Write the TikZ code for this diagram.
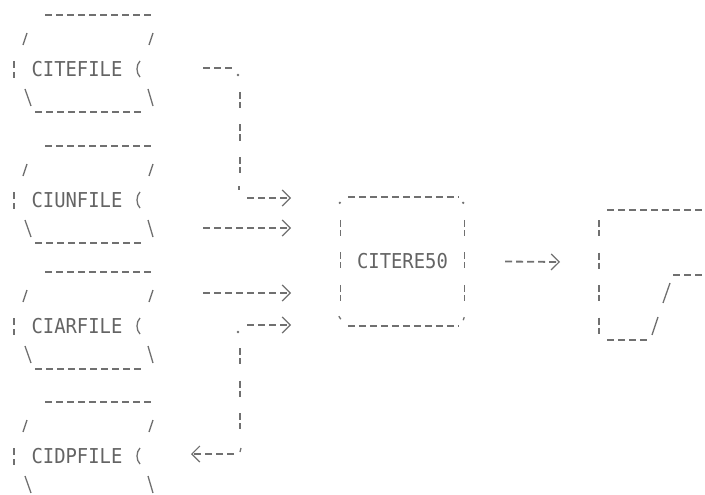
\documentclass[tikz,border=0pt]{standalone}
\usepackage{fontspec}
\newfontfamily\dotfont[FakeStretch=0.92]{DejaVu Sans Mono}
\usetikzlibrary{arrows.meta,calc}
\definecolor{ink}{RGB}{100,100,100}
\definecolor{lineink}{RGB}{112,112,112}
\begin{document}
\begin{tikzpicture}[x=1pt,y=-1pt,
  hdash/.style={draw=lineink,line width=1.8pt,dash pattern=on 7pt off 4pt},
  vdash/.style={draw=lineink,line width=1.3pt,dash pattern=on 7pt off 3pt on 6pt off 16.5pt},
  slantline/.style={draw=lineink,line width=1.3pt},
  tipR/.style={-{Straight Barb[length=8pt,width=16pt,line width=1.2pt]}},
  lbl/.style={text=ink,font=\dotfont\fontsize{20.5}{22}\selectfont,inner sep=0pt},
  filebox/.pic={
    \draw[hdash] (-32,-54) -- (76,-54);
    \draw[slantline] (-54,-24) -- (-50,-36);
    \draw[slantline] (72,-24) -- (76,-36);
    \draw[slantline] (-63,-8) -- (-63,-1);
    \draw[slantline] (-63,3) -- (-63,9);
    \draw[slantline] (63,-8) .. controls (59,-4) and (59,4) .. (63,8);
    \draw[slantline] (-52,20) -- (-46,37);
    \draw[slantline] (71,20) -- (76,37);
  },
  filebottom/.pic={
    \draw[hdash] (-42,43) -- (67,43);
  },
]
\useasboundingbox (0,0) rectangle (705,495);

% file symbols
\pic at (77,69) {filebox};  \pic at (77,69) {filebottom};
\pic at (77,200) {filebox}; \pic at (77,200) {filebottom};
\pic at (77,326) {filebox}; \pic at (77,326) {filebottom};
\pic at (77,456) {filebox};
\node[lbl] (f1) at (77,69)  {CITEFILE};
\node[lbl] (f2) at (77,200) {CIUNFILE};
\node[lbl] (f3) at (77,326) {CIARFILE};
\node[lbl] (f4) at (77,456) {CIDPFILE};

% central program box
\node[lbl,minimum width=123pt,minimum height=129pt] (rebox) at (402.5,261.5) {CITERE50};
\draw[hdash] ($(rebox.north west)+(7,0)$) -- ($(rebox.north east)+(-6,0)$);
\draw[hdash] ($(rebox.south west)+(7,0)$) -- ($(rebox.south east)+(-6,0)$);
\draw[vdash] ($(rebox.north west)+(0,23)$) -- ($(rebox.south west)+(0,-23)$);
\draw[vdash] ($(rebox.north east)+(0,23)$) -- ($(rebox.south east)+(0,-23)$);
\fill[lineink] ($(rebox.north west)+(-1,6)$) circle[radius=1.3pt];
\fill[lineink] ($(rebox.north east)+(-1,6)$) circle[radius=1.3pt];
\draw[slantline] ($(rebox.south west)+(-2,-10)$) -- ($(rebox.south west)+(0,-7)$);
\draw[slantline] ($(rebox.south east)+(0,-9)$) -- ($(rebox.south east)+(-1,-6)$);

% output (display) symbol, cut by the page edge
\coordinate (disp) at (599,275);
\draw[hdash] (607,210) -- (705,210);
\draw[vdash] ($(disp)+(0,-55)$) -- ($(disp)+(0,61)$);
\draw[hdash] (607,340) -- (649,340);
\draw[slantline] (652,335) -- (658,317);
\draw[slantline] (663,303) -- (670,283);
\draw[hdash] (673,275) -- (705,275);

% connector CITEFILE -> CITERE50
\coordinate (A0) at (203,68);
\coordinate (A1) at (240,68);
\coordinate (A2) at (240,198);
\coordinate (A3) at (291,198);
\draw[hdash] (A0) -- ($(A1)+(-6,0)$);
\fill[lineink] ($(A1)+(-2,7)$) circle[radius=1.3pt];
\draw[vdash] ($(A1)+(0,24)$) -- ($(A2)+(0,-23)$);
\draw[slantline] ($(A2)+(-1,-12)$) -- ($(A2)+(-1,-8)$);
\draw[hdash,tipR] ($(A2)+(7,0)$) -- (A3);

% connector CIUNFILE -> CITERE50
\coordinate (B0) at (203,228);
\coordinate (B1) at (291,228);
\draw[hdash,tipR] (B0) -- (B1);

% connector CIARFILE -> CITERE50
\coordinate (C0) at (203,293);
\coordinate (C1) at (291,293);
\draw[hdash,tipR] (C0) -- (C1);

% connector CITERE50 <-> CIDPFILE
\coordinate (D0) at (291,325);
\coordinate (D1) at (240,325);
\coordinate (D2) at (240,454);
\coordinate (D3) at (191,454);
\draw[hdash,tipR] ($(D1)+(7,0)$) -- (D0);
\fill[lineink] ($(D1)+(-2,7)$) circle[radius=1.3pt];
\draw[vdash] ($(D1)+(0,23)$) -- ($(D2)+(0,-23)$);
\draw[slantline] ($(D2)+(1,-6)$) -- ($(D2)+(0,-2)$);
\draw[hdash,tipR] ($(D2)+(-6,0)$) -- (D3);

% connector CITERE50 -> display
\coordinate (E0) at ($(rebox.east)+(41,0)$);
\coordinate (E1) at (560,262);
\draw[hdash,tipR] (E0) -- (E1);
\end{tikzpicture}
\end{document}
